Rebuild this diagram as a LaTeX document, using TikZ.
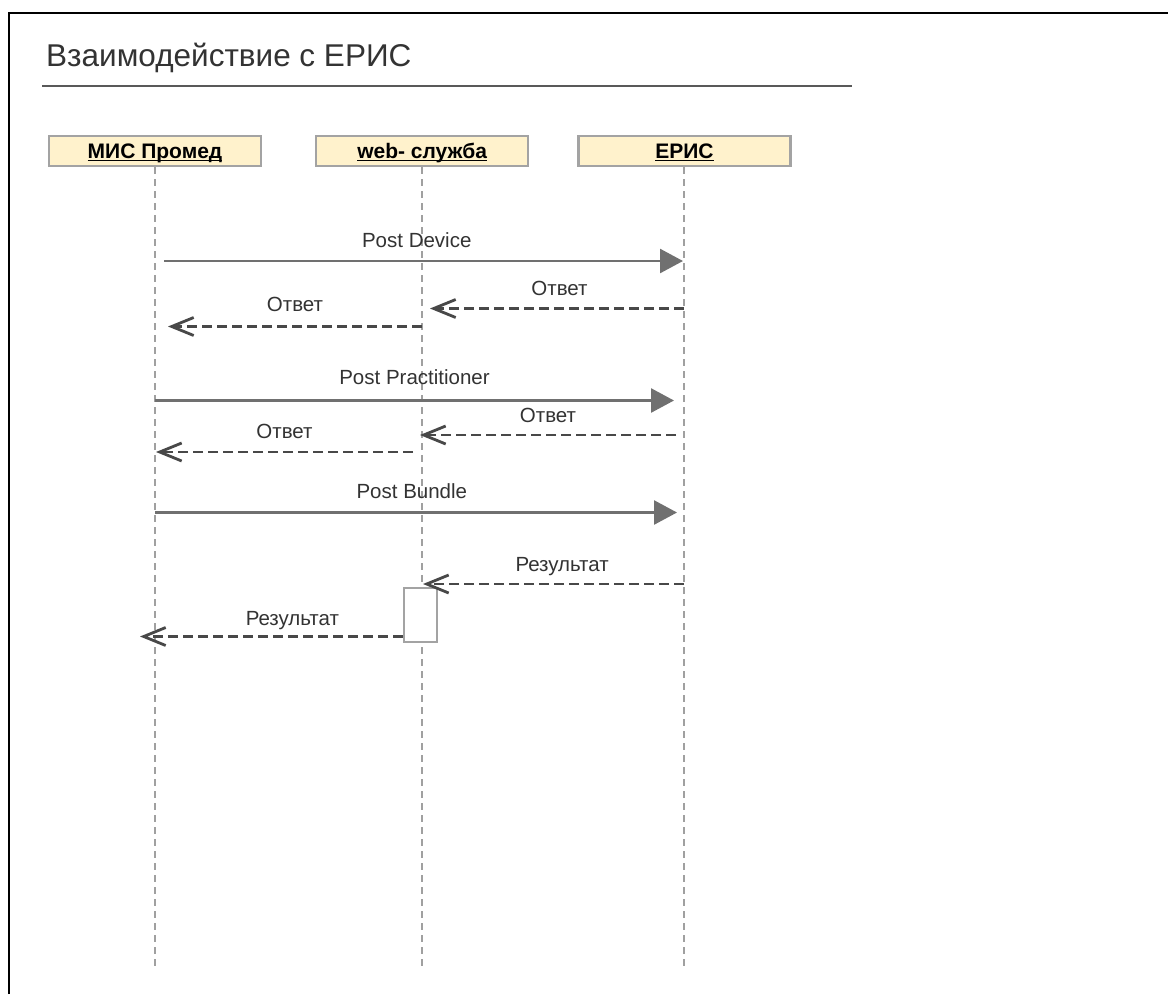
\documentclass[tikz,border=0pt]{standalone}
\usepackage{fontspec}
\setmainfont{Liberation Sans}
\usepackage{xcolor}
\definecolor{erisText}{HTML}{333333}
\definecolor{erisRule}{HTML}{595959}
\definecolor{erisHead}{HTML}{FFF2CC}
\definecolor{erisBorder}{HTML}{A3A3A3}
\definecolor{erisLife}{HTML}{A0A0A0}
\definecolor{erisCall}{HTML}{707070}
\definecolor{erisReply}{HTML}{484848}
\usepackage{tikz}
\usetikzlibrary{arrows.meta,positioning}
\newcommand{\headul}[1]{\sbox0{#1}\rlap{\rule[-2.6pt]{\wd0}{1.4pt}}\usebox0}
\tikzset{
    title/.style={
        anchor=base west,
        inner sep=0pt,
        font=\fontsize{31.5}{36}\selectfont,
        text=erisText
    },
    rule/.style={
        draw=erisRule,
        line width=2.2pt
    },
    frame/.style={
        draw=black,
        line width=2.5pt
    },
    actor/.style={
        draw=erisBorder,
        fill=erisHead,
        rectangle,
        line width=2.2pt,
        minimum width=212pt,
        minimum height=30pt,
        inner sep=0pt,
        text height=15pt,
        text depth=0pt,
        font=\fontsize{21}{24}\selectfont\bfseries
    },
    lifeline/.style={
        draw=erisLife,
        line width=2pt,
        dash pattern=on 7pt off 5pt
    },
    activation/.style={
        draw=erisBorder,
        fill=white,
        rectangle,
        line width=2.6pt,
        minimum width=33pt,
        minimum height=54pt
    },
    call/.style={
        draw=erisCall,
        line width=2.6pt,
        -{Triangle[length=23pt,width=24pt]},
        color=erisCall
    },
    reply/.style={
        draw=erisReply,
        line width=2.8pt,
        dash pattern=on 10pt off 5pt,
        -{Straight Barb[length=22pt,width=18pt]},
        color=erisReply
    },
    msg/.style={
        font=\fontsize{20.5}{24}\selectfont,
        text=erisText,
        anchor=base,
        inner sep=0pt,
        yshift=14pt
    }
}
\begin{document}
\begin{tikzpicture}[x=1pt, y=-1pt]
    \useasboundingbox[fill=white] (0,0) rectangle (1168,994);
    \draw[frame] (9,994) -- (9,13) -- (1168,13);

    % title
    \node[title] (title) at (46,66) {Взаимодействие с ЕРИС};
    \draw[rule] (42,86) -- (852,86);

    % participants
    \node[actor] (mis) at (155,151) {\headul{МИС Промед}};
    \node[actor, right=53pt of mis] (web) {\headul{web- служба}};
    \node[actor, right=48pt of web] (eris) {\headul{ЕРИС}};

    \foreach \h in {mis,web,eris} {
        \coordinate (\h-end) at (\h.south |- 0,967);
        \draw[lifeline] (\h.south) -- (\h-end);
    }

    \node[activation] (act) at (420.5,615) {};

    % message ends
    \coordinate (dev-a) at (164,261);   \coordinate (dev-b) at (683,261);
    \coordinate (ok1-a) at (684,308.5); \coordinate (ok1-b) at (430,308.5);
    \coordinate (ok2-a) at (422,326.5); \coordinate (ok2-b) at (168,326.5);
    \coordinate (prac-a) at (155,400.5); \coordinate (prac-b) at (674,400.5);
    \coordinate (ok3-a) at (676,435);   \coordinate (ok3-b) at (420,435);
    \coordinate (ok4-a) at (413,452);   \coordinate (ok4-b) at (156,452);
    \coordinate (bun-a) at (155,512.5); \coordinate (bun-b) at (677,512.5);
    \coordinate (res1-a) at (684,584);  \coordinate (res1-b) at (423,584);
    \coordinate (res2-a) at (act.west |- 0,636.5); \coordinate (res2-b) at (140,636.5);

    \draw[call] (dev-a) -- node[msg, pos=0.487] {Post Device} (dev-b);
    \draw[reply] (ok1-a) -- node[msg, pos=0.49, yshift=-1pt] {Ответ} (ok1-b);
    \draw[reply] (ok2-a) -- node[msg, yshift=1.5pt] {Ответ} (ok2-b);
    \draw[call] (prac-a) -- node[msg, yshift=2.5pt] {Post Practitioner} (prac-b);
    \draw[reply] (ok3-a) -- node[msg, yshift=-1pt] {Ответ} (ok3-b);
    \draw[reply] (ok4-a) -- node[msg] {Ответ} (ok4-b);
    \draw[call] (bun-a) -- node[msg, pos=0.492] {Post Bundle} (bun-b);
    \draw[reply] (res1-a) -- node[msg, pos=0.467, yshift=-1pt] {Результат} (res1-b);
    \draw[reply] (res2-a) -- node[msg, pos=0.42, yshift=-2.5pt] {Результат} (res2-b);
\end{tikzpicture}
\end{document}
